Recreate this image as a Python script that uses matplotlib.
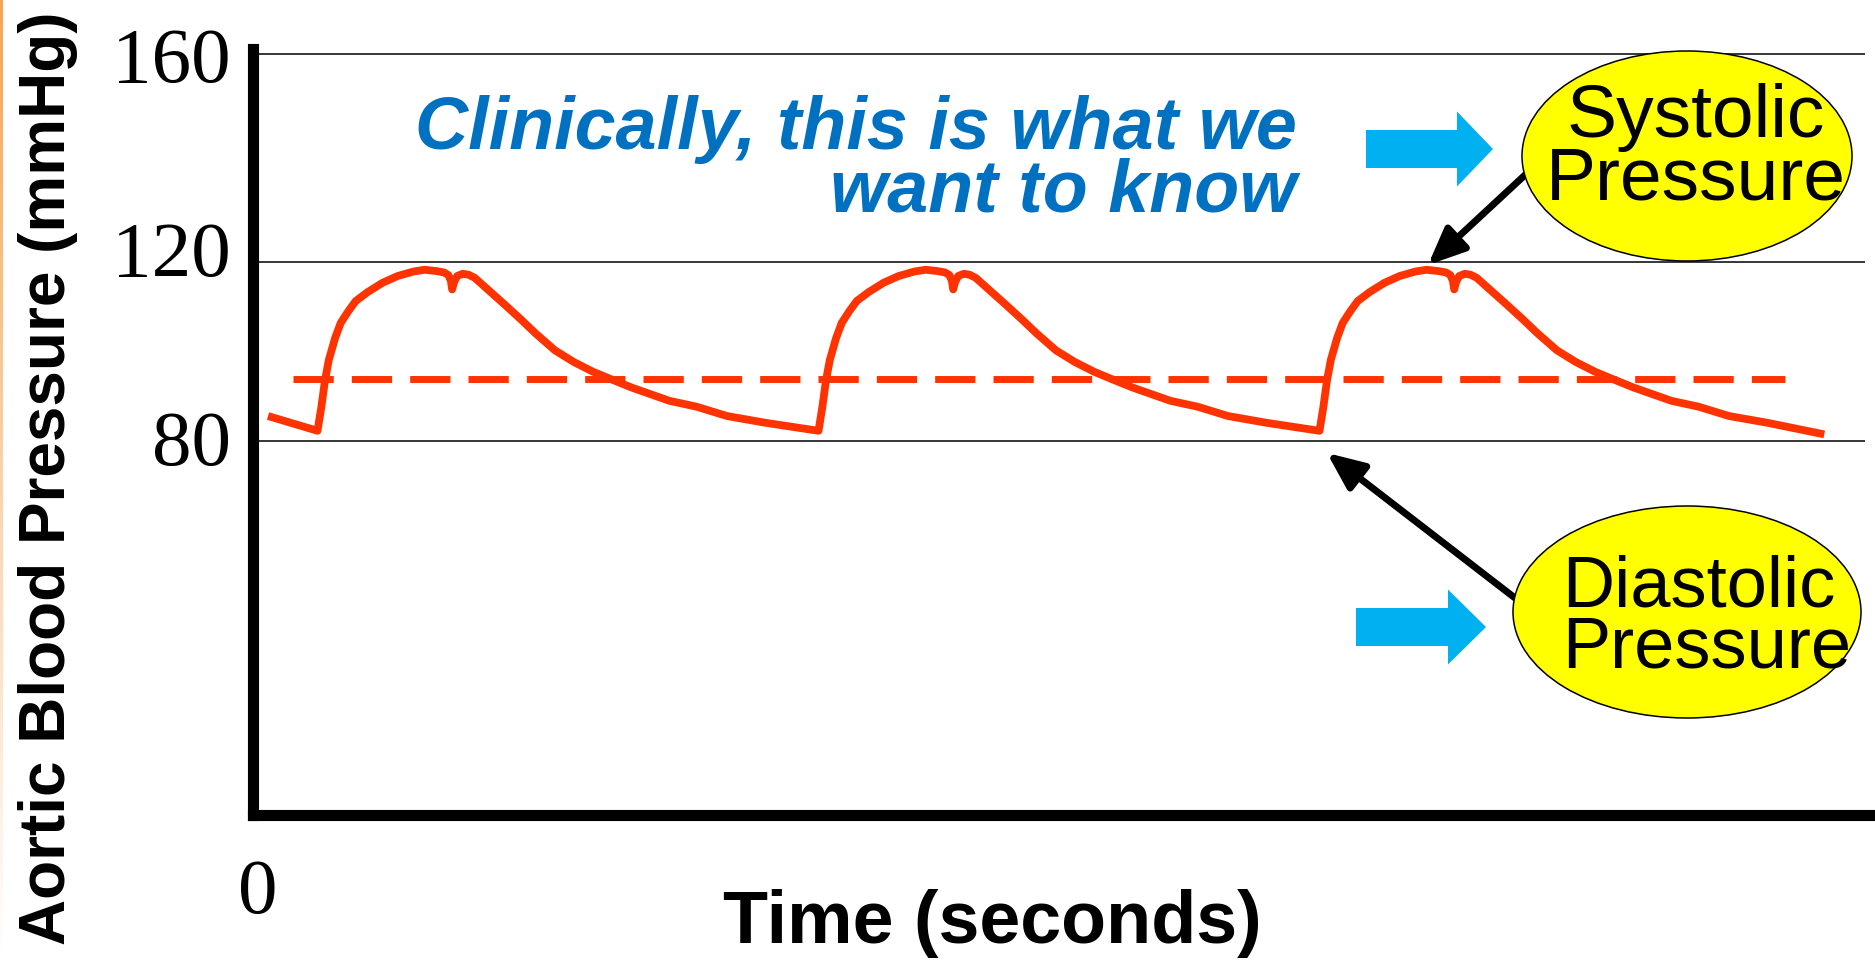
import numpy as np
import matplotlib.pyplot as plt
from matplotlib.patches import Ellipse, FancyArrow, FancyArrowPatch
from matplotlib.transforms import Affine2D, ScaledTranslation
from matplotlib.colors import LinearSegmentedColormap

plt.rcParams['font.family'] = ['Liberation Sans', 'DejaVu Sans']

# aortic pressure trace: time (s), pressure (mmHg)
lead_in_t = [0.024]
lead_in_p = [85.6]
beat1_t = [0.103, 0.109, 0.115, 0.121, 0.131, 0.140, 0.152, 0.164, 0.183, 0.207,
           0.231, 0.256, 0.274, 0.293, 0.305, 0.312, 0.316, 0.318, 0.321, 0.326,
           0.335, 0.344, 0.354, 0.378, 0.402, 0.427, 0.451, 0.482, 0.512, 0.543,
           0.574, 0.604, 0.665, 0.708, 0.757, 0.818]
beat2_t = [0.903, 0.909, 0.915, 0.921, 0.931, 0.940, 0.952, 0.964, 0.983, 1.007,
           1.031, 1.056, 1.074, 1.093, 1.105, 1.112, 1.116, 1.118, 1.121, 1.126,
           1.135, 1.144, 1.154, 1.178, 1.202, 1.227, 1.251, 1.282, 1.312, 1.343,
           1.374, 1.404, 1.465, 1.508, 1.557, 1.618]
beat3_t = [1.703, 1.709, 1.715, 1.721, 1.731, 1.740, 1.752, 1.764, 1.783, 1.807,
           1.831, 1.856, 1.874, 1.893, 1.905, 1.912, 1.916, 1.918, 1.921, 1.926,
           1.935, 1.944, 1.954, 1.978, 2.002, 2.027, 2.051, 2.082, 2.112, 2.143,
           2.174, 2.204, 2.265, 2.308, 2.357, 2.418]
# the three beats have the same shape on the slide
beat_p = [82.3, 87.5, 93.6, 98.1, 103.0, 106.4, 109.0, 111.3, 113.3, 115.4,
          116.9, 117.9, 118.3, 118.0, 117.7, 117.1, 115.8, 113.9, 115.5, 116.9,
          117.4, 117.2, 116.5, 113.5, 110.5, 107.3, 104.1, 100.3, 97.7, 95.5,
          93.7, 92.0, 89.0, 87.7, 85.6, 84.1]
tail_t = [2.509]
tail_p = [81.5]

mean_pressure = 93.8
mean_span = (0.064, 2.446)
grid_levels = [80, 120, 160]
grid_span = (0.008, 2.574)

time = lead_in_t + beat1_t + beat2_t + beat3_t + tail_t
pressure = lead_in_p + beat_p * 3 + tail_p

W, H = 1875, 960
fig = plt.figure(figsize=(W / 100, H / 100), dpi=100)
# pixel coordinates of the slide, y measured from the top
px = Affine2D().scale(1 / W, -1 / H).translate(0, 1) + fig.transFigure

ax = fig.add_axes([253 / W, 1 - 815 / H, 1 - 253 / W, (815 - 49) / H])

# the slide's pressure axis is not evenly spaced
brk_v = [0, 80, 120, 160, 200]
brk_p = [0, 374, 553, 761, 969]
ax.set_yscale('function', functions=(lambda v: np.interp(v, brk_v, brk_p),
                                     lambda p: np.interp(p, brk_p, brk_v)))
ax.set_ylim(0, 161)
ax.set_xlim(0, 2.59)

ax.hlines(grid_levels, *grid_span, color='black', lw=1.1)
ax.plot(time, pressure, color='#FF3300', lw=5.6, solid_joinstyle='round',
        solid_capstyle='butt')
ax.plot(mean_span, [mean_pressure] * 2, color='#FF3300', lw=5.0,
        dashes=(5.8, 2.6))

for side in ['top', 'right']:
    ax.spines[side].set_visible(False)
for side in ['left', 'bottom']:
    ax.spines[side].set_linewidth(8)

ax.set_yticks(grid_levels, labels=[str(v) for v in grid_levels])
ax.set_xticks([0], labels=['0'])
ax.tick_params(length=0, labelsize=57, labelfontfamily='Liberation Serif')
ax.tick_params(axis='y', pad=16)
ax.tick_params(axis='x', pad=31)
# labels on the slide sit a little off their lines
for lbl, dy in zip(ax.get_yticklabels(), [3, 13, -1]):
    lbl.set_transform(lbl.get_transform() + ScaledTranslation(0, dy / 100, fig.dpi_scale_trans))
for lbl in ax.get_xticklabels():
    lbl.set_transform(lbl.get_transform() + ScaledTranslation(5 / 100, 0, fig.dpi_scale_trans))

ax.set_xlabel('Time (seconds)', fontsize=53, fontweight='bold', va='baseline')
ax.xaxis.set_label_coords(992, 943, transform=px)
ax.set_ylabel('Aortic Blood Pressure (mmHg)', fontsize=46, fontweight='bold',
              va='center')
ax.yaxis.set_label_coords(48, 478, transform=px)

# multi-line texts are anchored on the baseline of their last line
fig.text(1297, 212, 'Clinically, this is what we\nwant to know', transform=px,
         ha='right', va='baseline', multialignment='right', linespacing=0.88,
         color='#0070C0', fontsize=53, fontweight='bold', fontstyle='italic')

cyan = '#00B0F0'
fig.patches.append(FancyArrow(1366, 149, 127, 0, width=38, head_width=75,
                              head_length=36, length_includes_head=True,
                              color=cyan, lw=0, transform=px, figure=fig))
fig.patches.append(FancyArrow(1356, 627, 130, 0, width=38, head_width=75,
                              head_length=38, length_includes_head=True,
                              color=cyan, lw=0, transform=px, figure=fig))

for (x0, y0), (x1, y1) in [((1525, 175), (1428, 265)), ((1515, 598), (1327, 453))]:
    fig.patches.append(FancyArrowPatch((x0, y0), (x1, y1), transform=px,
                                       arrowstyle='-|>,head_length=1.6,head_width=0.7',
                                       mutation_scale=14, lw=5, color='black',
                                       shrinkA=0, shrinkB=0, figure=fig))

fig.patches.append(Ellipse((1687, 156), 330, 210, transform=px, fc='#FFFF00',
                           ec='black', lw=1.1, figure=fig))
fig.patches.append(Ellipse((1687, 612), 348, 212, transform=px, fc='#FFFF00',
                           ec='black', lw=1.1, figure=fig))

fig.text(1696, 200, 'Systolic\nPressure', transform=px, ha='center',
         va='baseline', multialignment='center', linespacing=0.88,
         fontsize=54, zorder=3)
fig.text(1562, 667, 'Diastolic\nPressure', transform=px, ha='left',
         va='baseline', multialignment='left', linespacing=0.88,
         fontsize=52, zorder=3)

# faint orange slide border on the left edge
strip = fig.add_axes([0, 0, 3 / W, 1])
strip.imshow(np.linspace(1, 0, 256).reshape(-1, 1), aspect='auto',
             cmap=LinearSegmentedColormap.from_list('edge', ['white', '#F7A552']))
strip.axis('off')

fig.savefig('out.png', dpi=100)
